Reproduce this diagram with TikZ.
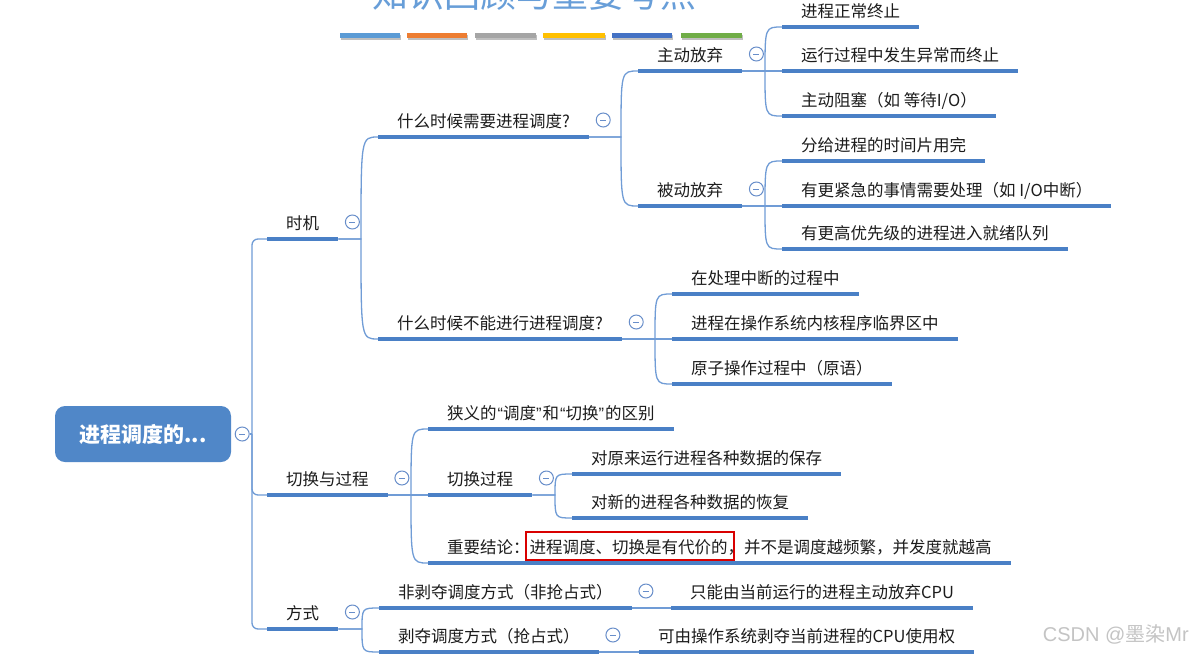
\documentclass[tikz,border=0pt]{standalone}
\usepackage{fontspec}
\setmainfont{Noto Sans CJK SC}
\newfontfamily\wmfont{Liberation Sans}
\newfontfamily\wmcjk{Noto Sans CJK SC}
\usetikzlibrary{calc}
\definecolor{ulc}{RGB}{74,128,198}
\definecolor{connc}{RGB}{112,156,214}
\definecolor{rootc}{RGB}{80,135,200}
\definecolor{titlec}{RGB}{104,158,216}
\definecolor{txtc}{RGB}{28,28,28}
\definecolor{btnc}{RGB}{104,142,202}
\definecolor{wmc}{RGB}{196,196,196}
\definecolor{barA}{RGB}{91,155,213}
\definecolor{barB}{RGB}{237,125,49}
\definecolor{barC}{RGB}{165,165,165}
\definecolor{barD}{RGB}{255,192,0}
\definecolor{barE}{RGB}{68,114,196}
\definecolor{barF}{RGB}{112,173,71}
\newcommand\mmul[1]{\draw[uln] (#1.south west) -- (#1.south east);}
\newcommand\mmlink[2]{\path ($(#2.south west)+(-17,0)$) coordinate (mmv);
  \draw[conn] (#1.south east) -- (mmv |- #1.south east) .. controls (mmv) .. (#2.south west);}
\newcommand\mmbtn[1]{\node[btn] (#1-b) at ($(#1.south east)+(14,-17)$) {};}
\newcommand\mmlq{{\wmfont\kern1pt“}}
\newcommand\mmrq{{\wmfont ”\kern1pt}}
\begin{document}
\begin{tikzpicture}[x=1pt,y=-1pt,
  topic/.style={anchor=south west, inner xsep=19pt, inner ysep=6pt, text depth=3pt, text height=13pt, font=\fontsize{16.5}{18}\selectfont, text=txtc},
  uln/.style={draw=ulc, line width=3.5pt},
  conn/.style={draw=connc, line width=1.3pt},
  btn/.style={circle, draw=btnc, fill=white, line width=1pt, minimum size=14pt, inner sep=0pt,
    path picture={\draw[btnc,line width=1pt] ([xshift=-3pt]path picture bounding box.center) -- ([xshift=3pt]path picture bounding box.center);}},
]
\useasboundingbox (0,0) rectangle (1193,654);
\fill[white] (0,0) rectangle (1193,654);

% title (cut at top, as in the reference) and colour bars
\node[anchor=base west, inner sep=0pt, font=\fontsize{36}{36}\selectfont, text=titlec] (title) at (372,7) {知识回顾与重要考点};
\foreach \xa/\xb/\cc in {340/400/barA, 407/467/barB, 475/536/barC, 543/605/barD, 612/672/barE, 681/742/barF}{
  \fill[black!25] (\xa+1,35) rectangle (\xb+1,40);
  \fill[\cc] (\xa,33) rectangle (\xb,38);
}

% root
\node[rounded corners=10pt, fill=rootc, text=white, minimum width=176pt, minimum height=56pt, font=\fontsize{21}{24}\bfseries\selectfont] (root) at (143,434) {进程调度的...};
\node[btn] (root-b) at ($(root.east)+(11,0)$) {};
\coordinate (spine) at (252,434);

% level 1
\node[topic] (t1) at (267,239) {时机};
\node[topic] (t2) at (267,495) {切换与过程};
\node[topic] (t3) at (267,629) {方式};

% under 时机
\node[topic] (t11) at (378,137) {什么时候需要进程调度?};
\node[topic] (t12) at (378,339) {什么时候不能进行进程调度?};
\node[topic] (t111) at (638,71) {主动放弃};
\node[topic] (t112) at (638,206) {被动放弃};
\node[topic] (a1) at (782,27) {进程正常终止};
\node[topic] (a2) at (782,71) {运行过程中发生异常而终止};
\node[topic] (a3) at (782,116) {主动阻塞（如 等待I/O）};
\node[topic] (b1) at (782,161) {分给进程的时间片用完};
\node[topic] (b2) at (782,206) {有更紧急的事情需要处理（如 I/O中断）};
\node[topic] (b3) at (782,249) {有更高优先级的进程进入就绪队列};
\node[topic] (c1) at (672,294) {在处理中断的过程中};
\node[topic] (c2) at (672,339) {进程在操作系统内核程序临界区中};
\node[topic] (c3) at (672,384) {原子操作过程中（原语）};

% under 切换与过程
\node[topic] (d1) at (428,429) {狭义的\mmlq 调度\mmrq 和\mmlq 切换\mmrq 的区别};
\node[topic] (d2) at (428,495) {切换过程};
\node[topic] (d21) at (572,474) {对原来运行进程各种数据的保存};
\node[topic] (d22) at (572,518) {对新的进程各种数据的恢复};
\node[topic] (d3) at (428,563) {重要结论：进程调度、切换是有代价的，并不是调度越频繁，并发度就越高};

% under 方式
\node[topic] (e1) at (379,608) {非剥夺调度方式（非抢占式）};
\node[topic] (e11) at (671,608) {只能由当前运行的进程主动放弃CPU};
\node[topic] (e2) at (379,652) {剥夺调度方式（抢占式）};
\node[topic] (e21) at (639,652) {可由操作系统剥夺当前进程的CPU使用权};

% connectors
\draw[conn] (root-b.east) -- (spine);
\draw[conn, rounded corners=6pt] (t1.south west) -| (spine) |- (t3.south west);
\draw[conn, rounded corners=6pt] (spine) |- (t2.south west);
\mmlink{t1}{t11}\mmlink{t1}{t12}
\mmlink{t11}{t111}\mmlink{t11}{t112}
\mmlink{t111}{a1}\mmlink{t111}{a2}\mmlink{t111}{a3}
\mmlink{t112}{b1}\mmlink{t112}{b2}\mmlink{t112}{b3}
\mmlink{t12}{c1}\mmlink{t12}{c2}\mmlink{t12}{c3}
\mmlink{t2}{d1}\mmlink{t2}{d2}\mmlink{t2}{d3}
\mmlink{d2}{d21}\mmlink{d2}{d22}
\mmlink{t3}{e1}\mmlink{t3}{e2}
\draw[conn] (e1.south east) -- (e11.south west);
\draw[conn] (e2.south east) -- (e21.south west);

% underlines
\foreach \n in {t1,t2,t3,t11,t12,t111,t112,a1,a2,a3,b1,b2,b3,c1,c2,c3,d1,d2,d21,d22,d3,e1,e11,e2,e21}{\mmul{\n}}

% collapse buttons
\foreach \n in {t1,t2,t3,t11,t12,t111,t112,d2,e1,e2}{\mmbtn{\n}}

% red highlight box
\draw[red!85!black, line width=1.6pt] ($(d3.south west)+(98,-3)$) rectangle ($(d3.south west)+(306,-31)$);

% watermark
\node[anchor=base east, inner sep=0pt, text=wmc, font=\fontsize{20}{20}\selectfont] (wm) at (1189,641) {\wmfont CSDN @\wmcjk 墨染\wmfont Mr};
\end{tikzpicture}
\end{document}
